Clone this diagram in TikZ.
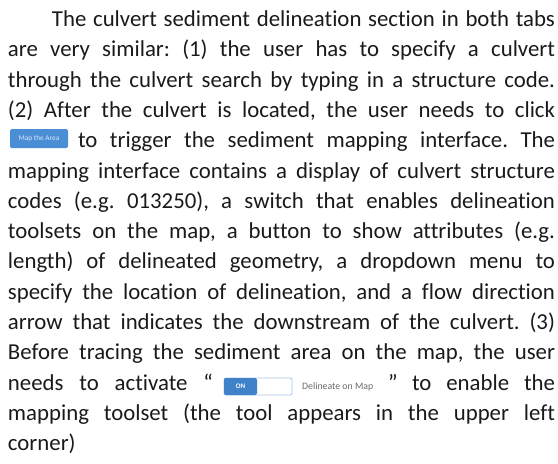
\documentclass[tikz,border=0pt]{standalone}
\usepackage{fontspec}
\setmainfont[Ligatures=NoCommon]{Carlito}
\frenchspacing
\definecolor{ink}{HTML}{1A1A1A}
\definecolor{btnblue}{HTML}{4A8FD6}
\definecolor{btntext}{HTML}{DCE9F8}
\definecolor{swblue}{HTML}{3F82CA}
\definecolor{swedge}{HTML}{A9C7E8}
\definecolor{labelgray}{HTML}{6A6A6A}
\begin{document}
\begin{tikzpicture}[x=1pt,y=1pt]
\tikzset{
  textline/.style={anchor=base west, inner sep=0pt, outer sep=0pt,
    font=\fontsize{22.8}{30}\selectfont, text=ink},
  mapbutton/.style={inner sep=0pt, minimum width=58pt, minimum height=19pt,
    rounded corners=1.5pt, fill=btnblue, text=btntext,
    font=\fontsize{7.3}{8}\selectfont},
  switchframe/.style={inner sep=0pt, minimum width=68pt, minimum height=17pt,
    rounded corners=2pt, draw=swedge, line width=0.9pt, fill=white},
  switchon/.style={inner sep=0pt, minimum width=33pt, minimum height=17pt,
    rounded corners=2pt, fill=swblue, text=white,
    font=\fontsize{7}{8}\selectfont\bfseries},
  switchlabel/.style={anchor=west, inner sep=0pt, text=labelgray,
    font=\fontsize{9.8}{10}\selectfont},
}
\useasboundingbox (0,0) rectangle (558,-464);

\node[textline] (l1) at (52,-26.5) {\makebox[503pt][s]{The culvert sediment delineation section in both tabs}};
\node[textline] (l2) at (8,-56.8) {\makebox[547pt][s]{are very similar: (1) the user has to specify a culvert}};
\node[textline] (l3) at (8,-87.1) {\makebox[547pt][s]{through the culvert search by typing in a structure code.}};
\node[textline] (l4) at (8,-117.4) {\makebox[547pt][s]{(2) After the culvert is located, the user needs to click}};

\node[mapbutton] (mapbtn) at (39,-138.5) {Map the Area};
\node[textline] (l5) at (78,-147.7) {\makebox[477pt][s]{to trigger the sediment mapping interface. The}};

\node[textline] (l6) at (8,-178.0) {\makebox[547pt][s]{mapping interface contains a display of culvert structure}};
\node[textline] (l7) at (8,-208.3) {\makebox[547pt][s]{codes (e.g. 013250), a switch that enables delineation}};
\node[textline] (l8) at (8,-238.6) {\makebox[547pt][s]{toolsets on the map, a button to show attributes (e.g.}};
\node[textline] (l9) at (8,-268.9) {\makebox[547pt][s]{length) of delineated geometry, a dropdown menu to}};
\node[textline] (l10) at (8,-299.2) {\makebox[547pt][s]{specify the location of delineation, and a flow direction}};
\node[textline] (l11) at (8,-329.5) {\makebox[547pt][s]{arrow that indicates the downstream of the culvert. (3)}};
\node[textline] (l12) at (8,-359.8) {\makebox[547pt][s]{Before tracing the sediment area on the map, the user}};

% line with the delineation switch
\node[textline] (l13a) at (8,-390.1) {\makebox[205pt][s]{needs to activate “}};
\node[switchframe] (swframe) at (258,-386.5) {};
\node[switchon] (swon) at (240.5,-386.5) {ON};
\node[switchlabel] (swlabel) at (302,-386.5) {Delineate on Map};
\node[textline] (l13b) at (388,-390.1) {”};
\node[textline] (l13c) at (412,-390.1) {\makebox[143pt][s]{to enable the}};

\node[textline] (l14) at (8,-420.4) {\makebox[547pt][s]{mapping toolset (the tool appears in the upper left}};
\node[textline] (l15) at (8,-450.7) {corner)};
\end{tikzpicture}
\end{document}
